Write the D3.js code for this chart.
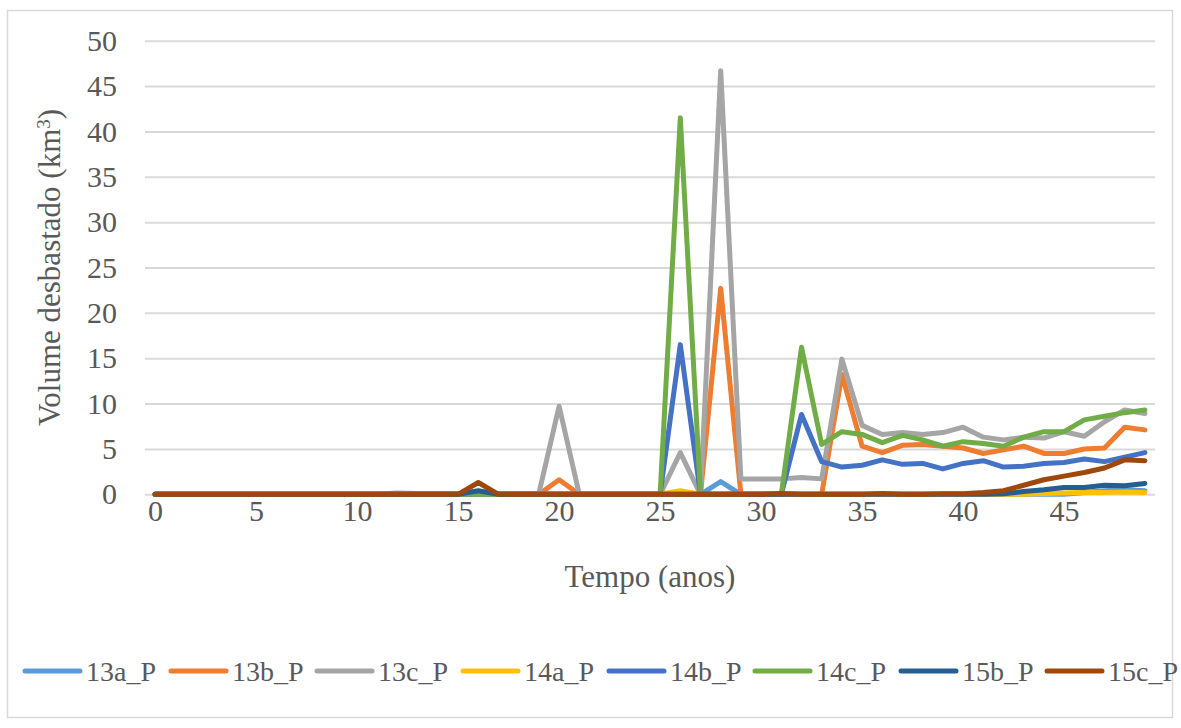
<!DOCTYPE html>
<html>
<head>
<meta charset="utf-8">
<script src="https://cdn.jsdelivr.net/npm/d3@7/dist/d3.min.js"></script>
<style>
  html, body { margin: 0; padding: 0; background: #ffffff; }
  svg { display: block; }
</style>
</head>
<body>
<svg id="chart" width="1181" height="728"></svg>
<script>
const years = d3.range(0, 50);
const xTickLabels = [0, 5, 10, 15, 20, 25, 30, 35, 40, 45];
const yTicks = [0, 5, 10, 15, 20, 25, 30, 35, 40, 45, 50];
const seriesNames = ["13a_P", "13b_P", "13c_P", "14a_P", "14b_P", "14c_P", "15b_P", "15c_P"];
const seriesColors = ["#5B9BD5", "#ED7D31", "#A5A5A5", "#FFC000", "#4472C4", "#70AD47", "#255E91", "#9E480E"];

const s13a = [0,0,0,0,0,0,0,0,0,0, 0,0,0,0,0,0,0,0,0,0, 0,0,0,0,0,0,0,0,1.4,0, 0,0,0,0,0,0,0,0,0,0, 0,0,0,0,0,0,0.2,0.4,0.5,0.4];
const s13b = [0,0,0,0,0,0,0,0,0,0, 0,0,0,0,0,0,0,0,0,0, 1.6,0,0,0,0,0,0,0,22.7,0, 0,0,0,0,13.2,5.3,4.6,5.4,5.5,5.3, 5.1,4.5,4.9,5.3,4.5,4.5,5.0,5.1,7.4,7.1];
const s13c = [0,0,0,0,0,0,0,0,0,0, 0,0,0.15,0.1,0.1,0.1,0,0.1,0.1,0.1, 9.7,0,0,0,0,0,4.6,0,46.7,1.7, 1.7,1.7,1.85,1.7,14.9,7.6,6.6,6.8,6.6,6.8, 7.4,6.3,6.0,6.3,6.2,6.9,6.4,8.0,9.3,8.9];
const s14a = [0,0,0,0,0,0,0,0,0,0, 0,0,0,0,0,0,0,0,0,0, 0,0,0,0,0,0,0.4,0,0,0, 0,0,0,0,0,0,0,0,0,0, 0,0,0,0,0.1,0.15,0.2,0.2,0.25,0.2];
const s14b = [0,0,0,0,0,0,0,0,0,0, 0,0,0,0,0,0,0,0,0,0, 0,0,0,0,0,0,16.5,0,0,0, 0,0,8.8,3.6,3.0,3.2,3.8,3.3,3.4,2.8, 3.4,3.7,3.0,3.1,3.4,3.5,3.9,3.6,4.1,4.6];
const s14c = [0,0,0,0,0,0,0,0,0,0, 0,0,0,0,0,0,0,0,0,0, 0,0,0,0,0,0,41.5,0,0,0, 0,0,16.2,5.5,6.9,6.6,5.7,6.5,6.0,5.3, 5.8,5.6,5.3,6.3,6.9,6.9,8.2,8.6,9.0,9.3];
const s15b = [0,0,0,0,0,0,0,0,0,0, 0,0,0,0,0,0,0.4,0,0,0, 0,0,0,0,0,0,0,0,0,0, 0,0,0,0,0,0,0,0,0,0, 0,0,0.05,0.3,0.5,0.75,0.75,1.0,0.95,1.2];
const s15c = [0,0,0,0,0,0,0,0,0,0, 0,0,0,0,0,0,1.3,0,0,0, 0,0,0,0,0,0,0,0,0,0, 0,0.1,0,0,0,0,0.1,0,0,0.05, 0.05,0.2,0.4,1.0,1.6,2.0,2.4,2.9,3.8,3.7];
const seriesValues = [s13a, s13b, s13c, s14a, s14b, s14c, s15b, s15c];

const svg = d3.select("#chart");
const textColor = "#595959";
const gridColor = "#D9D9D9";
const font = "'Liberation Serif', 'Times New Roman', serif";

// outer border
svg.append("rect")
  .attr("x", 7.5).attr("y", 10.5).attr("width", 1165).attr("height", 707)
  .attr("fill", "#fff").attr("stroke", gridColor).attr("stroke-width", 1.5);

const plotLeft = 145, plotRight = 1155, plotTop = 40.7, plotBottom = 494.3;

const x = d3.scalePoint().domain(years).range([plotLeft, plotRight]).padding(0.5);
const y = d3.scaleLinear().domain([0, 50]).range([plotBottom, plotTop]);

// gridlines + y labels
const yAxis = d3.axisLeft(y).tickValues(yTicks).tickSize(-(plotRight - plotLeft)).tickPadding(28);
const gy = svg.append("g").attr("transform", `translate(${plotLeft},0)`).call(yAxis);
gy.select(".domain").remove();
gy.selectAll(".tick line").attr("stroke", gridColor).attr("stroke-width", 2);
gy.selectAll(".tick text")
  .attr("fill", textColor).attr("font-family", font).attr("font-size", 30);

// x axis labels
const xAxis = d3.axisBottom(x).tickValues(xTickLabels).tickSize(0).tickPadding(5);
const gx = svg.append("g").attr("transform", `translate(0,${plotBottom})`).call(xAxis);
gx.select(".domain").remove();
gx.selectAll(".tick text")
  .attr("fill", textColor).attr("font-family", font).attr("font-size", 30);

// axis titles
svg.append("text")
  .attr("x", 650).attr("y", 587)
  .attr("text-anchor", "middle")
  .attr("fill", textColor).attr("font-family", font).attr("font-size", 31)
  .text("Tempo (anos)");

const yTitle = svg.append("text")
  .attr("transform", `translate(60,${(plotTop + plotBottom) / 2}) rotate(-90)`)
  .attr("text-anchor", "middle")
  .attr("fill", textColor).attr("font-family", font).attr("font-size", 31);
yTitle.append("tspan").text("Volume desbastado (km");
yTitle.append("tspan").attr("baseline-shift", "super").attr("font-size", 19).text("3");
yTitle.append("tspan").text(")");

// lines
const line = d3.line().x((d, i) => x(years[i])).y(d => y(d));
seriesValues.forEach((vals, k) => {
  svg.append("path")
    .datum(vals)
    .attr("d", line)
    .attr("fill", "none")
    .attr("stroke", seriesColors[k])
    .attr("stroke-width", 5)
    .attr("stroke-linejoin", "round")
    .attr("stroke-linecap", "round");
});

// legend
const legendY = 671;
const legendStart = 25;
const legendStep = 146;
seriesNames.forEach((name, k) => {
  const lx = legendStart + k * legendStep;
  svg.append("line")
    .attr("x1", lx).attr("x2", lx + 55)
    .attr("y1", legendY).attr("y2", legendY)
    .attr("stroke", seriesColors[k]).attr("stroke-width", 5)
    .attr("stroke-linecap", "round");
  svg.append("text")
    .attr("x", lx + 61).attr("y", legendY)
    .attr("dy", "0.35em")
    .attr("fill", textColor).attr("font-family", font).attr("font-size", 28)
    .text(name);
});
</script>
</body>
</html>
